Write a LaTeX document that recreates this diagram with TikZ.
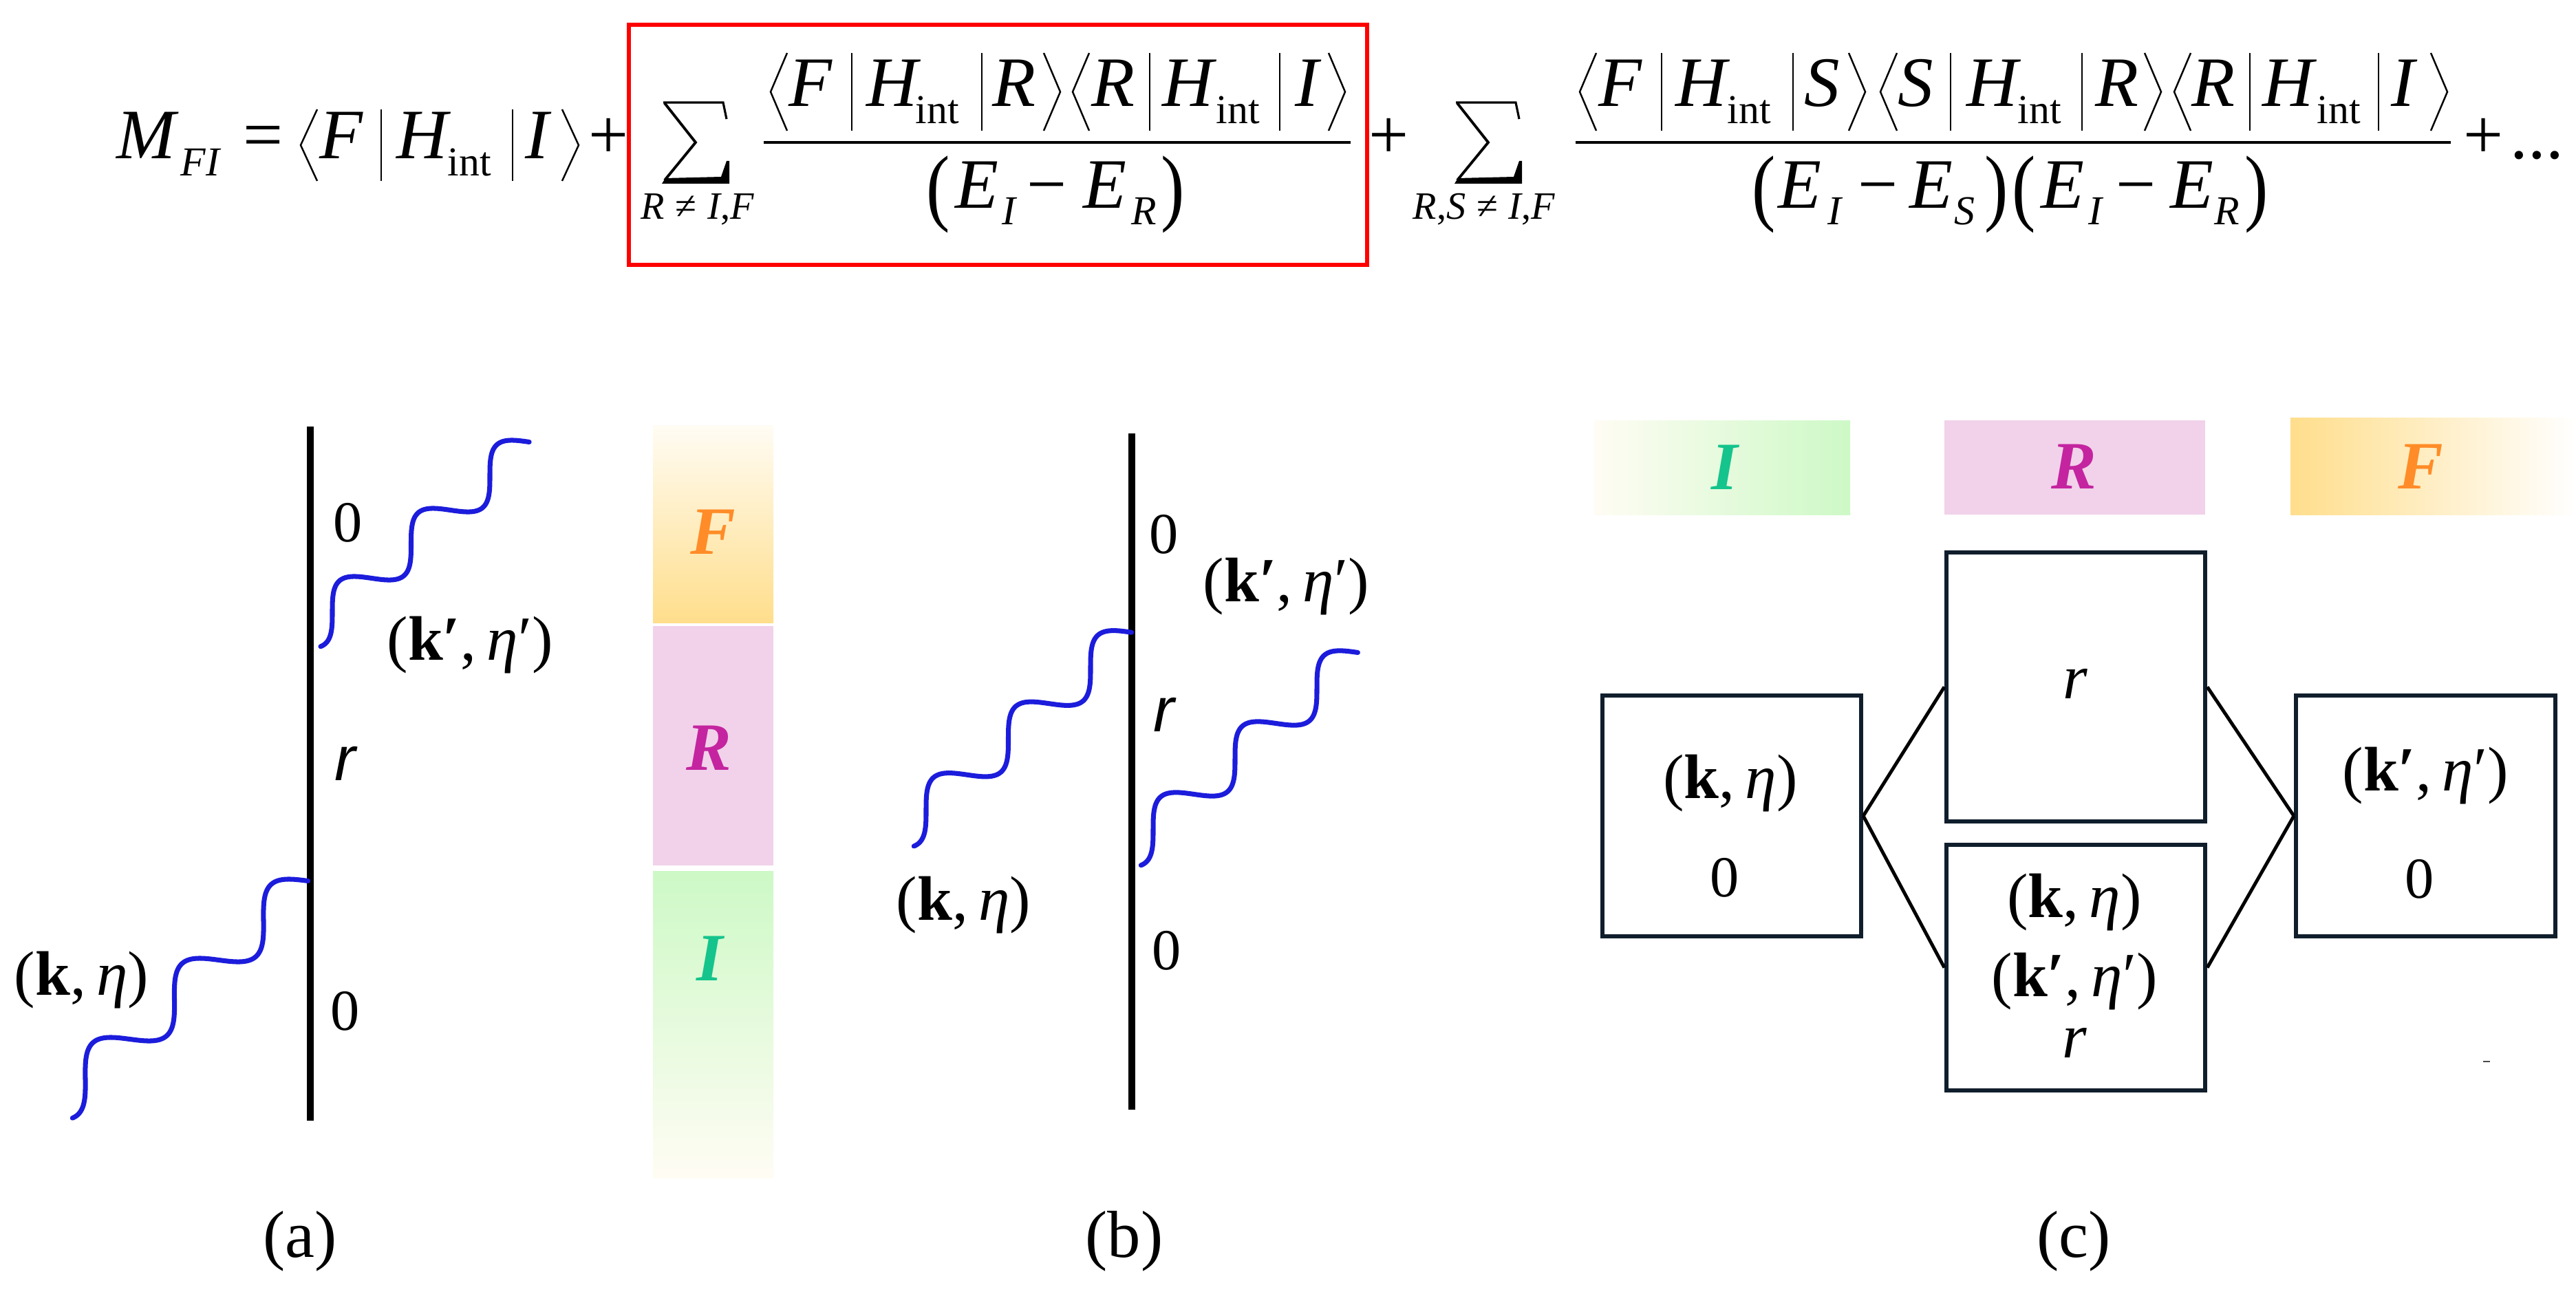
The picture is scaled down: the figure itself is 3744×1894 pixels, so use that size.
\documentclass[tikz,border=0pt]{standalone}
\usepackage{fontspec}
\setmainfont{Liberation Serif}
\newfontfamily\lsans{Liberation Sans}
\usepackage{graphicx}
\definecolor{wblue}{RGB}{28,28,220}
\definecolor{boxc}{RGB}{16,30,44}
\definecolor{pinkR}{RGB}{241,210,234}
\definecolor{greenI}{RGB}{205,249,198}
\definecolor{orangeF}{RGB}{255,222,140}
\definecolor{creamW}{RGB}{255,252,244}
\definecolor{txtF}{RGB}{255,140,40}
\definecolor{txtR}{RGB}{196,36,160}
\definecolor{txtI}{RGB}{20,196,140}
\newcommand{\keta}{(\textbf{k},\,\textit{η})}
\newcommand{\ketap}{(\textbf{k\char"2032},\,\textit{η}\char"2032)}
\newcommand{\LA}[3]{\draw[brk] ({#1+24},#2) -- (#1,{(#2+#3)/2}) -- ({#1+24},#3);}
\newcommand{\RA}[3]{\draw[brk] (#1,#2) -- ({#1+24},{(#2+#3)/2}) -- (#1,#3);}
\newcommand{\VB}[3]{\draw[vbar] (#1,#2) -- (#1,#3);}
\newcommand{\photon}[4]{\draw[wave] plot[domain=-0.3:2.5, samples=180, smooth, variable=\t]
  ({#1+\t*(#3)+0.184*sin(360*\t)*(#4)}, {#2+\t*(#4)-0.184*sin(360*\t)*(#3)});}
\newcommand{\tallp}[1]{\scalebox{1}[1.2]{#1}}
\newcommand{\Sig}[1]{%
  \draw[line width=0.9pt, line join=miter] ({#1+3},149) -- ({#1+90},149) -- ({#1+95},173);
  \draw[line width=1.1pt, line join=miter] ({#1+5},150) -- ({#1+50},207) -- ({#1+5},262);
  \fill ({#1+1},267) -- ({#1+99},267) -- ({#1+99},234) -- ({#1+95},234) -- ({#1+87},257) -- ({#1+6},259) -- cycle;}
\begin{document}
\begin{tikzpicture}[x=0.01cm, y=-0.01cm,
  eqt/.style={anchor=base west, inner sep=0pt, font=\fontsize{29.3}{35}\selectfont},
  eqs/.style={anchor=base west, inner sep=0pt, font=\fontsize{17}{20}\selectfont},
  eqsum/.style={anchor=base west, inner sep=0pt, font=\fontsize{16}{19}\selectfont},
  eqp/.style={anchor=base west, inner sep=0pt, font=\fontsize{29.3}{35}\selectfont},
  brk/.style={line width=0.7pt, line join=miter},
  vbar/.style={line width=0.8pt},
  fracbar/.style={line width=0.9pt},
  redbox/.style={draw=red, line width=1.7pt},
  axisline/.style={line width=2.7pt},
  wave/.style={draw=wblue, line width=2pt, line cap=round},
  lab/.style={inner sep=0pt, anchor=base west, font=\fontsize{26}{30}\selectfont},
  labc/.style={inner sep=0pt, anchor=base, font=\fontsize{26}{30}\selectfont},
  zero/.style={inner sep=0pt, anchor=base west, font=\fontsize{24}{28}\selectfont},
  zeroc/.style={inner sep=0pt, anchor=base, font=\fontsize{24}{28}\selectfont},
  cbox/.style={draw=boxc, line width=1.7pt, minimum width=3.76cm, inner sep=0pt},
  conn/.style={line width=1.4pt},
  stlab/.style={inner sep=0pt, font=\fontsize{28}{32}\selectfont\bfseries\itshape},
  sublab/.style={inner sep=0pt, anchor=base, font=\fontsize{27.5}{32}\selectfont}]
\fill[white] (0,0) rectangle (3744,1894);
\useasboundingbox (0,0) rectangle (3744,1894);

% ---------------- equation ----------------
\foreach \x/\t [count=\i] in {169/\textit{M}, 353/{=}, 464/\textit{F}, 576/\textit{H}, 763/\textit{I}, 855/{+}, 1989/{+}, 3580/{+}}
  \node[eqt, name=ml\i] at (\x,231) {\t};
\node[eqt, name=dots] at (3648,231) {...};
\foreach \x/\t [count=\i] in {262/\textit{FI}, 650/int}
  \node[eqs, name=ms\i] at (\x,255) {\t};
\LA{437}{159}{263} \VB{554}{159}{263} \VB{745}{159}{263} \RA{817}{159}{263}

% red box
\draw[redbox] (914,36) rectangle (1987,385);

% sums
\Sig{961}
\Sig{2113}
\node[eqsum, name=sub1] at (931,319) {\textit{R}\hspace{0.28em}≠\hspace{0.28em}\textit{I},\textit{F}};
\node[eqsum, name=sub2] at (2053,319) {\textit{R},\textit{S}\hspace{0.28em}≠\hspace{0.28em}\textit{I},\textit{F}};

% numerators
\foreach \x/\t [count=\i] in {1146/\textit{F}, 1259/\textit{H}, 1442/\textit{R}, 1586/\textit{R}, 1689/\textit{H}, 1882/\textit{I},
  2323/\textit{F}, 2435/\textit{H}, 2622/\textit{S}, 2758/\textit{S}, 2858/\textit{H}, 3045/\textit{R}, 3185/\textit{R}, 3288/\textit{H}, 3475/\textit{I}}
  \node[eqt, name=nu\i] at (\x,155) {\t};
\foreach \x [count=\i] in {1330, 1767, 2510, 2932, 3367}
  \node[eqs, name=ni\i] at (\x,180) {int};
\LA{1120}{77}{190} \VB{1238}{77}{190} \VB{1427}{77}{190} \RA{1517}{77}{190}
\LA{1559}{77}{190} \VB{1671}{77}{190} \VB{1860}{77}{190} \RA{1931}{77}{190}
\LA{2296}{77}{190} \VB{2415}{77}{190} \VB{2606}{77}{190} \RA{2687}{77}{190}
\LA{2733}{77}{190} \VB{2835}{77}{190} \VB{3026}{77}{190} \RA{3117}{77}{190}
\LA{3160}{77}{190} \VB{3270}{77}{190} \VB{3457}{77}{190} \RA{3533}{77}{190}

% fraction bars
\draw[fracbar] (1110,207) -- (1963,207);
\draw[fracbar] (2290,207) -- (3562,207);

% denominators
\foreach \x/\t [count=\i] in {1388/\textit{E}, 1492/−, 1574/\textit{E}, 2584/\textit{E}, 2700/−, 2775/\textit{E}, 2966/\textit{E}, 3075/−, 3154/\textit{E}}
  \node[eqt, name=de\i] at (\x,303) {\t};
\foreach \x/\t [count=\i] in {1456/\textit{I}, 1644/\textit{R}, 2656/\textit{I}, 2840/\textit{S}, 3035/\textit{I}, 3218/\textit{R}}
  \node[eqs, name=ds\i] at (\x,327) {\t};
\foreach \x/\t [count=\i] in {1346/{(}, 1687/{)}, 2546/{(}, 2884/{)}, 2924/{(}, 3262/{)}}
  \node[eqp, name=dp\i] at (\x,313) {\tallp{\t}};

% ---------------- panel (a) ----------------
\shade[top color=creamW, bottom color=orangeF] (949,618) rectangle (1124,905);
\fill[pinkR] (949,910) rectangle (1124,1258);
\shade[top color=greenI, bottom color=creamW] (949,1266) rectangle (1124,1712);
\node[stlab, text=txtF, name=aF] at (1036,773) {F};
\node[stlab, text=txtR, name=aR] at (1030,1087) {R};
\node[stlab, text=txtI, name=aI] at (1032,1393) {I};

\coordinate (aTop) at (451,620);
\coordinate (aBot) at (451,1629);
\draw[axisline] (aTop) -- (aBot);
\photon{483}{890}{114.5}{-99}
\photon{124}{1568}{129.5}{-115}
\node[zero, name=a0t] at (484,787) {0};
\node[lab, name=ar] at (486,1134) {\lsans\itshape r};
\node[zero, name=a0b] at (480,1497) {0};
\node[lab, name=ak] at (20,1446) {\keta};
\node[lab, name=akp] at (562,959) {\ketap};
\node[sublab, name=capa] at (436,1827) {(a)};

% ---------------- panel (b) ----------------
\coordinate (bTop) at (1645,630);
\coordinate (bBot) at (1645,1613);
\draw[axisline] (bTop) -- (bBot);
\photon{1346}{1178}{119.5}{-103.5}
\photon{1676}{1206}{119}{-103}
\node[zero, name=b0t] at (1670,804) {0};
\node[lab, name=bkp] at (1748,874) {\ketap};
\node[lab, name=br] at (1676,1063) {\lsans\itshape r};
\node[zero, name=b0b] at (1674,1409) {0};
\node[lab, name=bk] at (1302,1337) {\keta};
\node[sublab, name=capb] at (1634,1827) {(b)};

% ---------------- panel (c) ----------------
\shade[left color=creamW, right color=greenI] (2317,611) rectangle (2689,748);
\fill[pinkR] (2826,611) rectangle (3205,748);
\shade[left color=orangeF, right color=white] (3329,607) rectangle (3744,748);
\node[stlab, text=txtI, name=cIl] at (2507,679) {I};
\node[stlab, text=txtR, name=cRl] at (3014,678) {R};
\node[stlab, text=txtF, name=cFl] at (3518,678) {F};

\node[cbox, minimum height=3.50cm, name=cI] at (2517,1186) {};
\node[cbox, minimum height=3.91cm, name=cR1] at (3017,998.5) {};
\node[cbox, minimum height=3.57cm, name=cR2] at (3017,1406.5) {};
\node[cbox, minimum height=3.50cm, minimum width=3.77cm, name=cF] at (3525.5,1186) {};
\draw[conn] (cI.east) -- (cR1.west);
\draw[conn] (cI.east) -- (cR2.west);
\draw[conn] (cR1.east) -- (cF.west);
\draw[conn] (cR2.east) -- (cF.west);

\node[labc, name=cIk] at (2515,1160) {\keta};
\node[zeroc, name=cI0] at (2507,1303) {0};
\node[labc, name=cR1r] at (3016,1015) {\textit{r}};
\node[labc, name=cR2k] at (3015,1333) {\keta};
\node[labc, name=cR2kp] at (3015,1448) {\ketap};
\node[labc, name=cR2r] at (3015,1537) {\textit{r}};
\node[labc, name=cFk] at (3525,1149) {\ketap};
\node[zeroc, name=cF0] at (3517,1305) {0};
\draw[line width=0.8pt, black!70] (3609,1543) -- (3619,1543);
\node[sublab, name=capc] at (3014,1827) {(c)};
\end{tikzpicture}
\end{document}
